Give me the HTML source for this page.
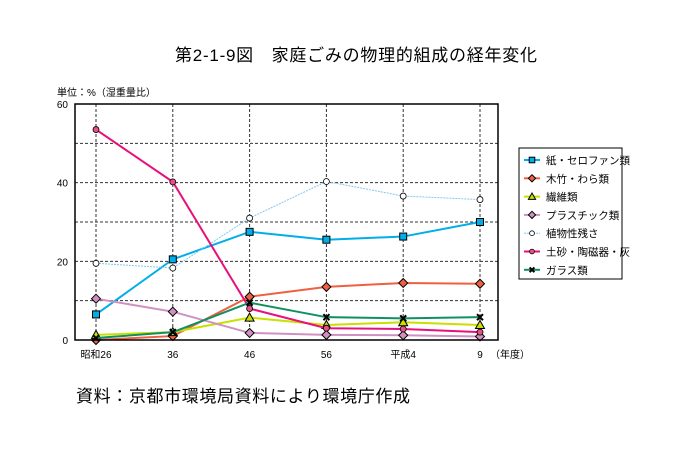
<!DOCTYPE html>
<html><head><meta charset="utf-8"><style>
body{margin:0;background:#fff;}
svg{display:block;font-family:"Liberation Sans","Noto Sans CJK JP",sans-serif;}
</style></head><body>
<svg id="c" width="688" height="458" viewBox="0 0 688 458">
<text x="356" y="61" font-size="17" text-anchor="middle" textLength="362">第2-1-9図　家庭ごみの物理的組成の経年変化</text>
<text x="57" y="96" font-size="10">単位：%（湿重量比）</text>
<text x="76" y="402" font-size="17" textLength="334">資料：京都市環境局資料により環境庁作成</text>
<g id="grid"></g><g id="series"></g>
<rect x="75" y="104" width="423" height="236" fill="none" stroke="#000" stroke-width="1.5"/>
<g id="legend"></g>
</svg>
<script>
const categories=["昭和26","36","46","56","平成4","9"];
const yTicks=[0,20,40,60];
const seriesNames=["紙・セロファン類","木竹・わら類","繊維類","プラスチック類","植物性残さ","土砂・陶磁器・灰","ガラス類"];
const paper=[6.5,20.5,27.5,25.5,26.3,30];
const wood=[0,1,11,13.5,14.5,14.3];
const fiber=[1.3,2,5.7,3.8,4.5,3.8];
const plastic=[10.5,7.2,1.8,1.3,1.2,0.9];
const plant=[19.5,18.3,31,40.3,36.6,35.7];
const soil=[53.5,40.2,8,3,2.8,2];
const glass=[0.5,2,9.5,5.8,5.5,5.8];

const NS="http://www.w3.org/2000/svg";
function x(i){return 96+(480-96)*i/(categories.length-1);}
function y(v){return 340-v*(236/60);}
function mk(tag,attrs,parent){const e=document.createElementNS(NS,tag);for(const k in attrs)e.setAttribute(k,attrs[k]);parent.appendChild(e);return e;}
const grid=document.getElementById('grid'),ser=document.getElementById('series'),leg=document.getElementById('legend');
for(let v=10;v<60;v+=10){const l=mk('line',{x1:75,x2:498,y1:y(v),y2:y(v),stroke:'#333','stroke-dasharray':'3,2','stroke-width':1},grid);

}
yTicks.forEach(v=>{const t=mk('text',{x:68,y:y(v)+4,'font-size':10,'text-anchor':'end'},grid);t.textContent=v;

});
categories.forEach((c,i)=>{const l=mk('line',{x1:x(i),x2:x(i),y1:104,y2:340,stroke:'#333','stroke-dasharray':'3,2','stroke-width':1},grid);


const t=mk('text',{x:x(i),y:358,'font-size':10,'text-anchor':'middle'},grid);t.textContent=c;

});
const ty=mk('text',{x:490,y:358,'font-size':10},grid);ty.textContent="（年度）";


const defs=[
[paper,'#00aee8',2,'sq','#00aee8',''],
[wood,'#f06040',2,'dia','#f06040',''],
[fiber,'#c8e000',2,'tri','#c8e000',''],
[plastic,'#d090c0',2,'dia','#d090c0',''],
[plant,'#80c8f0',1,'circ','#fff','2,1'],
[soil,'#e8107a',2,'circ','#e8508a',''],
[glass,'#109060',2,'x','#000','']];
function marker(kind,cx,cy,fill,g,s){
 s=s||1;
 if(kind==='sq')return mk('rect',{x:cx-3.5*s,y:cy-3.5*s,width:7*s,height:7*s,fill:fill,stroke:'#000','stroke-width':1},g);
 if(kind==='dia')return mk('polygon',{points:`${cx},${cy-4.5*s} ${cx+4.5*s},${cy} ${cx},${cy+4.5*s} ${cx-4.5*s},${cy}`,fill:fill,stroke:'#000','stroke-width':1},g);
 if(kind==='tri')return mk('polygon',{points:`${cx},${cy-4.5*s} ${cx+4.5*s},${cy+3.5*s} ${cx-4.5*s},${cy+3.5*s}`,fill:fill,stroke:'#000','stroke-width':1},g);
 if(kind==='circ')return mk('circle',{cx:cx,cy:cy,r:3*s,fill:fill,stroke:'#000','stroke-width':0.8},g);
 return mk('path',{d:`M${cx-3*s},${cy-3*s}L${cx+3*s},${cy+3*s}M${cx+3*s},${cy-3*s}L${cx-3*s},${cy+3*s}`,stroke:'#000','stroke-width':2},g);
}
defs.forEach((d,si)=>{
 const [vals,col,w,kind,fill,dash]=d;
 const g=mk('g',{},ser);
 
 
 const p=mk('polyline',{points:vals.map((v,i)=>x(i)+','+y(v)).join(' '),fill:'none',stroke:col,'stroke-width':w,'stroke-dasharray':dash},g);
 
 
 vals.forEach((v,i)=>{const m=marker(kind,x(i),y(v),fill,g);
 
 });
 const ly=160+si*18.3;
 const lg=mk('g',{},leg);
 
 
 mk('line',{x1:524,x2:540,y1:ly,y2:ly,stroke:col,'stroke-width':w,'stroke-dasharray':dash},lg);
 marker(kind,532,ly,fill,lg,0.8);
 const t=mk('text',{x:546,y:ly+4,'font-size':10.5},lg);t.textContent=seriesNames[si];
});
const box=mk('rect',{x:519,y:148,width:103,height:131,fill:'none',stroke:'#000','stroke-width':1},leg);


</script>
</body></html>
